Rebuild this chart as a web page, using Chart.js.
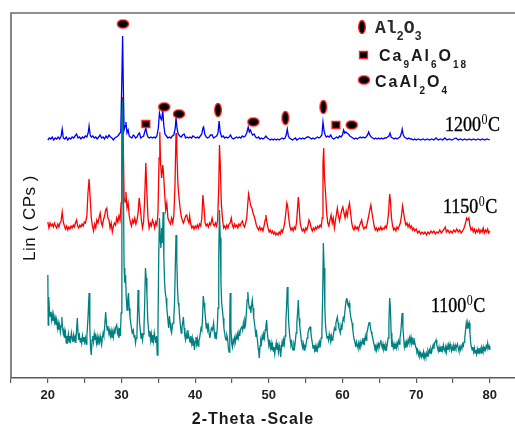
<!DOCTYPE html>
<html>
<head>
<meta charset="utf-8">
<script src="https://cdn.jsdelivr.net/npm/chart.js@4/dist/chart.umd.min.js"></script>
<style>
html, body { margin: 0; padding: 0; background: #fff; overflow: hidden; }
#wrap { width: 530px; height: 426px; }
</style>
</head>
<body>
<div id="wrap"><canvas id="xrd" width="530" height="426"></canvas></div>
<script>
// XRD patterns, stacked. [2-theta, intensity incl. vertical offset]
const blue1200 = [[20.0,238],[20.2,240],[20.4,239],[20.6,241],[20.8,238],[21.0,240],[21.2,239],[21.4,241],[21.6,239],[21.8,242],[21.95,249],[22.1,240],[22.3,239],[22.5,241],[22.7,238],[22.9,240],[23.1,239],[23.3,241],[23.5,240],[23.7,242],[23.9,244],[24.1,240],[24.3,241],[24.5,239],[24.7,241],[24.9,240],[25.1,242],[25.3,241],[25.5,246],[25.6,252],[25.75,243],[25.9,241],[26.1,242],[26.3,240],[26.5,241],[26.7,239],[26.9,241],[27.1,243],[27.3,240],[27.5,241],[27.7,239],[27.9,242],[28.1,240],[28.3,243],[28.5,241],[28.7,240],[28.9,238],[29.1,240],[29.3,241],[29.5,242],[29.7,244],[29.9,246],[30.05,300],[30.15,342],[30.25,290],[30.35,248],[30.5,252],[30.6,256],[30.75,245],[30.9,248],[31.05,242],[31.2,241],[31.4,240],[31.6,243],[31.75,242],[31.9,240],[32.1,241],[32.3,244],[32.45,245],[32.6,240],[32.8,241],[33.0,242],[33.15,246],[33.3,250],[33.45,244],[33.6,241],[33.8,240],[34.0,241],[34.2,240],[34.4,241],[34.6,240],[34.8,242],[35.0,250],[35.15,265],[35.3,260],[35.45,258],[35.6,268],[35.75,252],[35.9,244],[36.1,242],[36.3,240],[36.5,241],[36.7,240],[36.9,242],[37.1,243],[37.3,250],[37.4,260],[37.55,249],[37.7,244],[37.9,242],[38.1,241],[38.3,243],[38.5,244],[38.7,240],[38.9,241],[39.1,240],[39.3,241],[39.5,240],[39.7,242],[39.9,241],[40.1,240],[40.3,241],[40.5,240],[40.7,242],[40.9,244],[41.05,250],[41.15,251],[41.3,244],[41.5,241],[41.7,240],[41.9,241],[42.1,243],[42.3,243],[42.5,240],[42.7,241],[42.9,242],[43.1,245],[43.25,257],[43.4,246],[43.6,241],[43.8,242],[44.0,240],[44.2,241],[44.4,240],[44.6,241],[44.8,243],[45.0,240],[45.2,239],[45.4,240],[45.6,241],[45.8,240],[46.0,241],[46.2,240],[46.4,242],[46.6,241],[46.8,242],[47.0,245],[47.2,251],[47.35,246],[47.5,248],[47.65,245],[47.8,243],[48.0,244],[48.2,241],[48.4,240],[48.6,241],[48.8,239],[49.0,240],[49.2,239],[49.4,240],[49.6,242],[49.8,240],[50.0,239],[50.2,238],[50.4,239],[50.6,238],[50.8,239],[51.0,238],[51.2,239],[51.4,238],[51.6,239],[51.8,240],[52.0,239],[52.2,240],[52.35,243],[52.5,249],[52.65,242],[52.8,240],[53.0,239],[53.2,238],[53.4,239],[53.6,240],[53.8,238],[54.0,239],[54.2,240],[54.4,239],[54.6,240],[54.8,239],[55.0,240],[55.2,241],[55.4,241],[55.6,240],[55.8,239],[56.0,240],[56.2,239],[56.4,240],[56.6,241],[56.8,240],[57.0,241],[57.2,243],[57.35,256],[57.5,247],[57.65,243],[57.8,241],[58.0,242],[58.2,241],[58.4,243],[58.6,240],[58.8,239],[59.0,240],[59.2,241],[59.4,240],[59.6,242],[59.8,241],[60.0,243],[60.15,248],[60.3,245],[60.45,246],[60.6,245],[60.8,244],[61.0,242],[61.2,241],[61.4,240],[61.6,239],[61.8,240],[62.0,239],[62.2,240],[62.4,241],[62.6,240],[62.8,241],[63.0,240],[63.2,241],[63.4,243],[63.55,246],[63.7,243],[63.9,241],[64.1,240],[64.3,239],[64.5,240],[64.7,239],[64.9,240],[65.1,239],[65.3,240],[65.5,239],[65.7,240],[65.9,240],[66.1,241],[66.3,242],[66.45,245],[66.6,241],[66.8,240],[67.0,239],[67.2,240],[67.4,239],[67.6,240],[67.8,241],[68.0,245],[68.1,249],[68.25,243],[68.4,241],[68.6,240],[68.8,239],[69.0,240],[69.2,239],[69.4,239],[69.6,238],[69.8,239],[70.0,238],[70.3,239],[70.6,238],[70.9,239],[71.2,238],[71.5,239],[71.8,238],[72.1,239],[72.4,238],[72.7,240],[73.0,238],[73.3,239],[73.6,238],[73.9,240],[74.2,238],[74.5,239],[74.8,238],[75.1,239],[75.4,240],[75.7,238],[76.0,239],[76.3,238],[76.6,239],[76.9,238],[77.2,239],[77.5,238],[77.8,239],[78.1,238],[78.4,239],[78.7,238],[79.0,239],[79.3,238],[79.6,239],[80.0,238]];

const red1150 = [[20.0,156],[20.15,150],[20.3,155],[20.45,152],[20.6,154],[20.75,151],[20.9,155],[21.05,152],[21.2,150],[21.35,154],[21.5,151],[21.65,155],[21.8,157],[21.95,166],[22.1,156],[22.25,152],[22.4,149],[22.55,152],[22.7,148],[22.85,151],[23.0,149],[23.15,152],[23.3,150],[23.45,153],[23.6,151],[23.75,155],[23.9,158],[24.05,152],[24.2,150],[24.35,153],[24.5,151],[24.65,154],[24.8,152],[24.95,156],[25.1,155],[25.3,162],[25.45,185],[25.6,199],[25.75,180],[25.9,160],[26.05,152],[26.2,147],[26.35,154],[26.5,150],[26.65,158],[26.8,155],[26.95,160],[27.1,165],[27.25,156],[27.4,152],[27.55,158],[27.7,162],[27.85,168],[28.0,170],[28.15,160],[28.3,158],[28.45,150],[28.6,155],[28.75,146],[28.9,152],[29.05,155],[29.2,153],[29.35,160],[29.5,156],[29.65,162],[29.8,158],[29.95,175],[30.05,240],[30.15,281],[30.25,230],[30.35,180],[30.5,176],[30.6,186],[30.75,170],[30.9,175],[31.05,162],[31.2,156],[31.35,152],[31.5,158],[31.65,155],[31.8,160],[31.95,154],[32.1,158],[32.25,165],[32.4,180],[32.55,170],[32.7,158],[32.85,150],[33.0,156],[33.15,180],[33.3,215],[33.45,185],[33.6,160],[33.75,150],[33.9,155],[34.05,152],[34.2,158],[34.35,155],[34.5,150],[34.65,156],[34.8,153],[34.95,165],[35.1,220],[35.2,246],[35.3,215],[35.45,200],[35.6,213],[35.7,205],[35.85,185],[36.0,168],[36.15,175],[36.3,160],[36.5,156],[36.65,154],[36.8,160],[36.95,155],[37.1,162],[37.25,190],[37.4,245],[37.5,230],[37.65,195],[37.8,181],[37.95,170],[38.1,162],[38.25,158],[38.4,155],[38.55,158],[38.7,162],[38.85,163],[39.0,158],[39.15,155],[39.25,162],[39.4,154],[39.55,150],[39.7,152],[39.85,149],[40.0,152],[40.15,150],[40.3,153],[40.45,150],[40.6,154],[40.75,152],[40.9,160],[41.05,183],[41.2,170],[41.35,155],[41.5,152],[41.65,154],[41.8,151],[41.95,155],[42.1,153],[42.3,160],[42.45,154],[42.6,152],[42.75,155],[42.9,152],[43.05,158],[43.2,190],[43.3,233],[43.4,215],[43.55,175],[43.7,160],[43.85,150],[44.0,152],[44.15,149],[44.3,153],[44.45,150],[44.6,154],[44.75,155],[44.9,160],[45.05,153],[45.2,150],[45.35,154],[45.5,151],[45.65,153],[45.8,150],[45.95,154],[46.1,152],[46.25,155],[46.4,157],[46.55,153],[46.7,151],[46.85,155],[47.0,160],[47.15,175],[47.25,184],[47.4,178],[47.55,172],[47.7,170],[47.85,165],[48.0,162],[48.15,158],[48.3,153],[48.45,150],[48.6,148],[48.75,151],[48.9,148],[49.05,150],[49.2,147],[49.35,152],[49.5,158],[49.6,163],[49.75,155],[49.9,150],[50.05,146],[50.2,148],[50.35,145],[50.5,147],[50.65,144],[50.8,146],[50.95,143],[51.1,145],[51.25,143],[51.4,146],[51.55,144],[51.7,148],[51.85,146],[52.0,150],[52.15,155],[52.3,165],[52.45,175],[52.55,172],[52.7,160],[52.85,152],[53.0,148],[53.15,150],[53.3,147],[53.45,151],[53.6,149],[53.75,155],[53.9,170],[54.0,181],[54.1,172],[54.25,155],[54.4,150],[54.55,147],[54.7,149],[54.85,146],[55.0,150],[55.15,148],[55.3,152],[55.45,158],[55.6,155],[55.75,150],[55.9,147],[56.05,150],[56.2,148],[56.35,151],[56.5,149],[56.65,152],[56.8,150],[56.95,153],[57.1,151],[57.25,160],[57.35,215],[57.45,230],[57.55,200],[57.7,185],[57.85,165],[58.0,155],[58.15,152],[58.3,158],[58.45,163],[58.6,155],[58.75,160],[58.9,150],[59.05,158],[59.2,165],[59.3,170],[59.45,162],[59.6,157],[59.75,163],[59.9,168],[60.05,171],[60.2,165],[60.35,160],[60.5,167],[60.65,162],[60.8,170],[60.95,175],[61.1,165],[61.25,155],[61.4,150],[61.55,148],[61.7,152],[61.85,149],[62.0,151],[62.15,148],[62.3,152],[62.45,155],[62.6,158],[62.75,152],[62.9,149],[63.05,151],[63.2,150],[63.35,155],[63.5,160],[63.7,168],[63.85,173],[64.0,165],[64.15,158],[64.3,152],[64.45,148],[64.6,150],[64.75,147],[64.9,150],[65.05,148],[65.2,151],[65.35,148],[65.5,150],[65.65,149],[65.8,152],[65.95,150],[66.1,155],[66.25,165],[66.4,184],[66.5,178],[66.65,160],[66.8,152],[66.95,148],[67.1,150],[67.25,147],[67.4,151],[67.55,149],[67.7,152],[67.85,155],[68.0,162],[68.15,172],[68.3,165],[68.45,158],[68.6,153],[68.75,155],[68.9,151],[69.05,154],[69.2,150],[69.35,152],[69.5,148],[69.65,150],[69.8,147],[70.0,149],[70.2,145],[70.4,147],[70.6,144],[70.8,146],[71.0,144],[71.2,146],[71.4,143],[71.6,146],[71.8,144],[72.0,147],[72.2,145],[72.4,147],[72.6,144],[72.8,146],[73.0,145],[73.2,148],[73.4,145],[73.6,147],[73.8,149],[73.95,151],[74.1,146],[74.3,148],[74.5,145],[74.7,147],[74.9,145],[75.1,148],[75.3,146],[75.5,149],[75.7,146],[75.9,148],[76.1,145],[76.3,147],[76.5,150],[76.7,155],[76.85,160],[77.0,158],[77.15,160],[77.3,152],[77.45,148],[77.6,150],[77.75,146],[77.9,149],[78.05,145],[78.2,148],[78.35,146],[78.5,149],[78.65,145],[78.8,148],[78.95,146],[79.1,150],[79.25,145],[79.4,148],[79.55,146],[79.7,149],[79.85,145],[80.0,147]];

const teal1100 = [[20.0,103],[20.05,53],[20.12,81],[20.2,70],[20.3,62],[20.4,66],[20.5,58],[20.6,64],[20.7,57],[20.8,63],[20.9,56],[21.0,60],[21.1,53],[21.2,58],[21.3,50],[21.4,55],[21.5,48],[21.6,53],[21.7,46],[21.8,52],[21.9,61],[22.0,50],[22.1,44],[22.2,48],[22.3,40],[22.4,45],[22.5,35],[22.6,42],[22.7,38],[22.8,44],[22.9,36],[23.0,42],[23.1,38],[23.2,45],[23.3,40],[23.4,36],[23.5,43],[23.6,38],[23.7,41],[23.8,35],[23.9,48],[24.0,60],[24.1,45],[24.2,38],[24.3,42],[24.4,36],[24.5,40],[24.6,35],[24.7,42],[24.8,37],[24.9,41],[25.0,36],[25.1,40],[25.2,34],[25.3,42],[25.45,60],[25.6,85],[25.7,50],[25.8,30],[25.9,23],[26.0,38],[26.1,42],[26.2,36],[26.3,44],[26.4,38],[26.5,42],[26.6,35],[26.7,41],[26.8,33],[26.9,40],[27.0,36],[27.1,42],[27.2,37],[27.3,33],[27.4,40],[27.5,45],[27.6,42],[27.7,50],[27.85,66],[27.95,55],[28.05,48],[28.15,52],[28.3,44],[28.4,48],[28.5,42],[28.6,47],[28.7,40],[28.8,46],[28.9,41],[29.0,48],[29.1,44],[29.2,50],[29.35,53],[29.45,45],[29.55,48],[29.65,40],[29.75,50],[29.85,42],[29.95,65],[30.05,200],[30.15,278],[30.25,200],[30.35,110],[30.45,95],[30.55,103],[30.65,80],[30.75,68],[30.85,78],[30.95,85],[31.05,70],[31.15,61],[31.25,55],[31.35,50],[31.45,45],[31.6,48],[31.7,41],[31.8,43],[31.9,35],[32.0,40],[32.1,45],[32.2,70],[32.25,88],[32.35,72],[32.45,55],[32.55,48],[32.65,40],[32.75,45],[32.85,38],[32.95,44],[33.05,50],[33.15,75],[33.25,110],[33.35,100],[33.45,85],[33.55,60],[33.65,50],[33.75,42],[33.85,47],[33.95,38],[34.05,44],[34.15,36],[34.25,43],[34.35,37],[34.45,45],[34.55,40],[34.65,35],[34.75,42],[34.85,23],[34.95,50],[35.05,120],[35.15,160],[35.25,140],[35.35,130],[35.45,150],[35.55,135],[35.65,166],[35.75,120],[35.85,95],[35.95,85],[36.05,80],[36.15,70],[36.3,58],[36.4,50],[36.5,62],[36.6,55],[36.7,48],[36.8,45],[36.9,52],[37.0,55],[37.1,60],[37.2,75],[37.3,110],[37.4,143],[37.5,120],[37.6,90],[37.7,75],[37.8,71],[37.9,60],[38.0,52],[38.1,45],[38.2,50],[38.3,55],[38.4,61],[38.5,50],[38.6,42],[38.7,38],[38.8,44],[38.9,40],[39.0,48],[39.1,43],[39.2,40],[39.3,36],[39.4,42],[39.5,35],[39.6,40],[39.7,32],[39.8,38],[39.9,28],[40.0,36],[40.1,41],[40.2,34],[40.3,39],[40.4,32],[40.5,37],[40.6,40],[40.7,45],[40.8,50],[40.9,48],[41.0,60],[41.1,82],[41.2,75],[41.3,68],[41.4,60],[41.5,50],[41.6,55],[41.7,48],[41.8,52],[41.9,44],[42.0,40],[42.1,45],[42.2,50],[42.35,48],[42.5,55],[42.6,45],[42.7,40],[42.8,46],[42.9,42],[43.0,50],[43.1,70],[43.2,120],[43.3,168],[43.4,140],[43.5,95],[43.6,75],[43.7,68],[43.8,60],[43.9,50],[44.0,45],[44.1,40],[44.2,38],[44.3,43],[44.4,40],[44.5,30],[44.6,26],[44.7,60],[44.75,85],[44.85,50],[44.95,35],[45.05,31],[45.15,38],[45.25,35],[45.35,40],[45.45,36],[45.55,42],[45.65,38],[45.75,44],[45.85,40],[45.95,46],[46.05,42],[46.15,48],[46.25,50],[46.35,52],[46.45,48],[46.55,55],[46.65,50],[46.75,58],[46.85,55],[46.95,65],[47.05,78],[47.15,86],[47.25,75],[47.35,70],[47.45,71],[47.55,65],[47.65,72],[47.75,78],[47.85,70],[47.95,60],[48.05,55],[48.15,48],[48.25,41],[48.35,45],[48.45,38],[48.55,30],[48.65,25],[48.7,20],[48.8,32],[48.9,38],[49.0,35],[49.1,42],[49.2,38],[49.3,44],[49.4,40],[49.5,48],[49.6,52],[49.7,58],[49.8,45],[49.9,38],[50.0,33],[50.1,36],[50.2,30],[50.3,35],[50.4,28],[50.5,33],[50.6,27],[50.7,31],[50.8,24],[50.9,30],[51.0,35],[51.1,28],[51.2,32],[51.3,26],[51.4,33],[51.5,29],[51.6,21],[51.7,30],[51.8,36],[51.9,31],[52.0,38],[52.1,34],[52.2,42],[52.3,55],[52.4,70],[52.5,91],[52.6,75],[52.7,55],[52.8,45],[52.9,38],[53.0,33],[53.1,36],[53.2,30],[53.3,28],[53.4,34],[53.5,31],[53.6,37],[53.7,45],[53.8,55],[53.9,65],[54.0,78],[54.1,60],[54.2,52],[54.3,45],[54.4,38],[54.5,33],[54.6,30],[54.7,34],[54.8,28],[54.9,32],[55.0,31],[55.1,36],[55.2,40],[55.3,45],[55.4,48],[55.5,50],[55.6,51],[55.7,46],[55.8,40],[55.9,35],[56.0,30],[56.1,33],[56.2,28],[56.3,32],[56.4,26],[56.5,31],[56.6,28],[56.7,34],[56.8,30],[56.9,36],[57.0,33],[57.1,40],[57.2,45],[57.3,80],[57.4,135],[57.5,110],[57.6,70],[57.7,52],[57.8,45],[57.9,40],[58.0,42],[58.1,38],[58.2,44],[58.3,40],[58.4,36],[58.5,42],[58.6,38],[58.7,40],[58.8,45],[58.9,50],[59.0,48],[59.1,55],[59.2,58],[59.3,61],[59.4,55],[59.5,50],[59.6,48],[59.7,45],[59.8,52],[59.9,48],[60.0,55],[60.1,60],[60.2,58],[60.3,65],[60.4,72],[60.5,78],[60.6,80],[60.7,74],[60.8,72],[60.9,75],[61.0,68],[61.1,62],[61.2,58],[61.3,55],[61.4,48],[61.5,42],[61.6,38],[61.7,35],[61.8,31],[61.9,36],[62.0,33],[62.1,30],[62.2,35],[62.3,31],[62.4,36],[62.5,32],[62.6,35],[62.7,38],[62.8,34],[62.9,40],[63.0,36],[63.1,42],[63.2,38],[63.3,45],[63.4,48],[63.5,52],[63.6,55],[63.7,56],[63.8,50],[63.9,46],[64.0,43],[64.1,40],[64.2,36],[64.3,33],[64.4,30],[64.5,32],[64.6,28],[64.7,33],[64.8,30],[64.9,34],[65.0,31],[65.1,35],[65.2,38],[65.3,33],[65.4,30],[65.5,34],[65.6,29],[65.7,32],[65.8,28],[65.9,33],[66.0,30],[66.1,35],[66.2,40],[66.3,55],[66.4,80],[66.5,70],[66.6,45],[66.7,31],[66.8,35],[66.9,30],[67.0,34],[67.1,29],[67.2,33],[67.3,30],[67.4,35],[67.5,32],[67.6,37],[67.7,34],[67.8,40],[67.9,45],[68.0,55],[68.1,65],[68.2,50],[68.3,40],[68.4,31],[68.5,35],[68.6,30],[68.7,36],[68.8,33],[68.9,38],[69.0,35],[69.1,40],[69.2,36],[69.3,41],[69.4,35],[69.5,38],[69.6,34],[69.7,40],[69.8,36],[69.9,32],[70.0,30],[70.1,26],[70.2,28],[70.3,23],[70.4,26],[70.5,22],[70.6,25],[70.7,21],[70.8,24],[70.9,22],[71.0,26],[71.1,20],[71.2,24],[71.3,21],[71.4,25],[71.5,22],[71.6,27],[71.7,24],[71.8,28],[71.9,25],[72.0,29],[72.1,26],[72.2,30],[72.3,33],[72.4,29],[72.5,35],[72.6,36],[72.7,38],[72.8,33],[72.9,30],[73.0,27],[73.1,31],[73.2,26],[73.3,30],[73.4,27],[73.5,32],[73.6,28],[73.7,33],[73.8,29],[73.9,27],[74.0,31],[74.1,26],[74.2,32],[74.3,28],[74.4,33],[74.5,29],[74.6,34],[74.7,30],[74.8,27],[74.9,31],[75.0,28],[75.1,32],[75.2,29],[75.3,33],[75.4,30],[75.5,32],[75.6,34],[75.7,30],[75.8,27],[75.9,31],[76.0,28],[76.1,32],[76.2,30],[76.3,34],[76.4,32],[76.5,36],[76.6,40],[76.7,48],[76.8,55],[76.9,50],[77.0,55],[77.1,52],[77.2,55],[77.3,45],[77.4,35],[77.5,31],[77.6,28],[77.7,31],[77.8,26],[77.9,30],[78.0,25],[78.1,28],[78.2,24],[78.3,29],[78.4,25],[78.5,30],[78.6,26],[78.7,29],[78.8,25],[78.9,30],[79.0,27],[79.1,31],[79.2,27],[79.3,30],[79.4,28],[79.5,32],[79.6,30],[79.7,35],[79.8,30],[79.9,32],[80.0,28]];

// phase markers above the 1200 pattern
const markAl2O3 = [[43.1,268],[52.25,260],[57.4,271]];
const markCa9Al6O18 = [[33.3,254],[59.1,253]];
const markCaAl2O4 = [[30.2,354],[35.8,271],[37.8,264],[47.9,256],[61.25,253]];

const seriesLabels = ['1200', '1150', '1100'];
const xTickLabels = [20, 30, 40, 50, 60, 70, 80];

const SERIF = '"Liberation Serif", "DejaVu Serif", serif';
const SANS = '"Liberation Sans", Arial, sans-serif';
const MONO = '"Liberation Mono", "DejaVu Sans Mono", monospace';

function makeMarker(kind) {
  const c = document.createElement('canvas');
  const g = c.getContext('2d');
  if (kind === 'v') { c.width = 10; c.height = 16; }
  else if (kind === 'h') { c.width = 14; c.height = 11; }
  else { c.width = 11; c.height = 10; }
  g.fillStyle = '#000';
  g.strokeStyle = '#ff2020';
  g.lineWidth = 1.3;
  g.beginPath();
  if (kind === 'v') g.ellipse(5, 8, 3.3, 6.6, 0, 0, Math.PI * 2);
  else if (kind === 'h') g.ellipse(7, 5.5, 5.6, 4.2, 0, 0, Math.PI * 2);
  else g.rect(1.5, 1.5, 8, 7);
  g.fill();
  g.stroke();
  return c;
}
const imgV = makeMarker('v');
const imgH = makeMarker('h');
const imgS = makeMarker('s');

const toXY = arr => arr.map(p => ({ x: p[0], y: p[1] }));

function spacing(ctx, px) {
  if ('letterSpacing' in ctx) ctx.letterSpacing = px + 'px';
}

// draw text made of runs (normal / subscript)
function drawRuns(ctx, x, y, runs, sp) {
  spacing(ctx, sp || 0);
  runs.forEach(r => {
    ctx.font = r.f;
    ctx.fillText(r.t, x, y + (r.dy || 0));
    x += ctx.measureText(r.t).width;
  });
  spacing(ctx, 0);
}

function drawTemp(ctx, x, y, num) {
  ctx.save();
  ctx.translate(x, y);
  ctx.scale(1, 1.2);
  ctx.fillStyle = '#000';
  ctx.strokeStyle = '#000';
  ctx.lineWidth = 0.35;
  ctx.textBaseline = 'alphabetic';
  ctx.font = '18px ' + SERIF;
  ctx.fillText(num, 0, 0);
  ctx.strokeText(num, 0, 0);
  let w = ctx.measureText(num).width;
  ctx.font = '12px ' + SERIF;
  ctx.fillText('0', w + 0.5, -6);
  w += ctx.measureText('0').width + 1;
  ctx.font = '18px ' + SERIF;
  ctx.fillText('C', w, 0);
  ctx.strokeText('C', w, 0);
  ctx.restore();
}

const decor = {
  id: 'decor',
  afterDraw(chart) {
    const ctx = chart.ctx;
    const a = chart.chartArea;
    ctx.save();
    // frame: left and top
    ctx.strokeStyle = '#6a6a6a';
    ctx.lineWidth = 1.6;
    ctx.beginPath();
    ctx.moveTo(a.left, a.bottom);
    ctx.lineTo(a.left, a.top);
    ctx.lineTo(a.right + 10, a.top);
    ctx.stroke();

    // y title
    ctx.save();
    ctx.translate(35, 218);
    ctx.rotate(-Math.PI / 2);
    ctx.fillStyle = '#111';
    ctx.font = '17px ' + SANS;
    ctx.textAlign = 'center';
    ctx.textBaseline = 'alphabetic';
    spacing(ctx, 0.5);
    ctx.fillText('Lin ( CPs )', 0, 0);
    spacing(ctx, 0);
    ctx.restore();

    // x title
    ctx.fillStyle = '#1a1a1a';
    ctx.font = 'bold 16px ' + SANS;
    ctx.textAlign = 'center';
    ctx.textBaseline = 'alphabetic';
    spacing(ctx, 1);
    ctx.fillText('2-Theta -Scale', 253, 424);
    spacing(ctx, 0);

    // temperature labels
    ctx.textAlign = 'left';
    drawTemp(ctx, 445, 131, seriesLabels[0]);
    drawTemp(ctx, 443, 213, seriesLabels[1]);
    drawTemp(ctx, 431, 312, seriesLabels[2]);

    // legend
    ctx.drawImage(imgV, 362 - 5, 27 - 8);
    ctx.drawImage(imgS, 363.5 - 5.5, 55 - 5);
    ctx.drawImage(imgH, 364 - 7, 80 - 5.5);
    ctx.fillStyle = '#2a2a2a';
    drawRuns(ctx, 375, 33, [
      { t: 'Al', f: 'bold 18px ' + MONO },
      { t: '2', f: 'bold 12px ' + MONO, dy: 7 },
      { t: 'O', f: 'bold 18px ' + MONO },
      { t: '3', f: 'bold 12px ' + MONO, dy: 7 }
    ], 0);
    ctx.fillStyle = '#1a1a1a';
    drawRuns(ctx, 379, 61, [
      { t: 'Ca', f: 'bold 16px ' + SANS },
      { t: '9', f: 'bold 10px ' + SANS, dy: 7 },
      { t: 'Al', f: 'bold 16px ' + SANS },
      { t: '6', f: 'bold 10px ' + SANS, dy: 7 },
      { t: 'O', f: 'bold 16px ' + SANS },
      { t: '18', f: 'bold 10px ' + SANS, dy: 7 }
    ], 2);
    drawRuns(ctx, 375, 87, [
      { t: 'CaAl', f: 'bold 16px ' + SANS },
      { t: '2', f: 'bold 10px ' + SANS, dy: 7 },
      { t: 'O', f: 'bold 16px ' + SANS },
      { t: '4', f: 'bold 10px ' + SANS, dy: 7 }
    ], 2);
    ctx.restore();
  }
};

const lineDs = (label, arr, color) => ({
  label: label,
  data: toXY(arr),
  showLine: true,
  borderColor: color,
  borderWidth: 1.3,
  pointRadius: 0,
  tension: 0,
  fill: false
});

const markDs = (label, arr, img) => ({
  label: label,
  data: toXY(arr),
  showLine: false,
  pointStyle: img,
  pointRadius: 6,
  pointHoverRadius: 6
});

new Chart(document.getElementById('xrd'), {
  type: 'scatter',
  data: {
    datasets: [
      markDs('Al2O3', markAl2O3, imgV),
      markDs('Ca9Al6O18', markCa9Al6O18, imgS),
      markDs('CaAl2O4', markCaAl2O4, imgH),
      lineDs('1200', blue1200, '#0000ff'),
      lineDs('1100', teal1100, '#008080'),
      lineDs('1150', red1150, '#ff0000')
    ]
  },
  options: {
    responsive: false,
    animation: false,
    devicePixelRatio: 1,
    layout: { padding: { left: 11, top: 13, right: 5, bottom: 0 } },
    plugins: { legend: { display: false }, tooltip: { enabled: false } },
    scales: {
      x: {
        type: 'linear',
        min: 15,
        max: 84.5,
        afterFit: s => { s.height = 48; },
        border: { display: true, color: '#5a5a5a', width: 1.6 },
        grid: { display: true, drawOnChartArea: false, drawTicks: true, tickLength: 5, color: '#5a5a5a', lineWidth: 1.2 },
        ticks: {
          stepSize: 5,
          includeBounds: false,
          maxRotation: 0,
          autoSkip: false,
          padding: 5,
          color: '#222',
          font: { family: SANS, size: 13, weight: 'bold' },
          callback: v => xTickLabels.includes(v) ? String(v) : ''
        }
      },
      y: { display: false, min: 0, max: 365 }
    }
  },
  plugins: [decor]
});
</script>
</body>
</html>
